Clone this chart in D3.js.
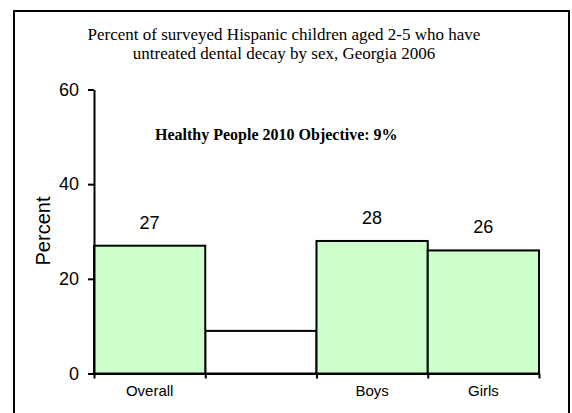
<!DOCTYPE html>
<html>
<head>
<meta charset="utf-8">
<script src="https://cdn.jsdelivr.net/npm/d3@7"></script>
<style>
  html, body { margin: 0; padding: 0; background: #fff; }
  svg { display: block; }
</style>
</head>
<body>
<svg id="chart" width="572" height="413"></svg>
<script>
// Untreated dental decay among Hispanic children aged 2-5, Georgia 2006
const categories = ["Overall", "Objective", "Boys", "Girls"];
const tickLabels = ["Overall", "", "Boys", "Girls"];
const percents = [27, null, 28, 26];
const objectiveValue = 9;
const yTicks = [0, 20, 40, 60];
const titleLines = [
  "Percent of surveyed Hispanic children aged 2-5 who have",
  "untreated dental decay by sex, Georgia 2006"
];
const objectiveNote = "Healthy People 2010 Objective: 9%";

const svg = d3.select("#chart");
const sans = "'Liberation Sans', Arial, sans-serif";
const serif = "'Liberation Serif', 'Times New Roman', serif";

// frame around the whole chart
svg.append("rect")
  .attr("x", 14).attr("y", 11)
  .attr("width", 555).attr("height", 412)
  .attr("fill", "#fff").attr("stroke", "#000").attr("stroke-width", 2);

// title
svg.append("g").selectAll("text").data(titleLines).join("text")
  .attr("x", 284).attr("y", (d, i) => 40 + i * 18.5)
  .attr("text-anchor", "middle")
  .attr("font-family", serif).attr("font-size", 17)
  .attr("fill", "#000")
  .text(d => d);

const plot = { left: 94, right: 539, top: 89.5, bottom: 373.5 };

const x = d3.scaleBand().domain(categories)
  .range([plot.left, plot.right]).paddingInner(0).paddingOuter(0);
const y = d3.scaleLinear().domain([0, 60]).range([plot.bottom, plot.top]);

// objective reference bar
svg.append("rect")
  .attr("x", x("Objective")).attr("y", y(objectiveValue))
  .attr("width", x.bandwidth()).attr("height", y(0) - y(objectiveValue))
  .attr("fill", "#fff").attr("stroke", "#000").attr("stroke-width", 2);

// data bars
const barData = categories.map((c, i) => ({ c, v: percents[i] })).filter(d => d.v !== null);
svg.append("g").selectAll("rect").data(barData).join("rect")
  .attr("x", d => x(d.c)).attr("y", d => y(d.v))
  .attr("width", x.bandwidth()).attr("height", d => y(0) - y(d.v))
  .attr("fill", "#CCFFCC").attr("stroke", "#000").attr("stroke-width", 2);

// value labels
svg.append("g").selectAll("text").data(barData).join("text")
  .attr("x", d => x(d.c) + x.bandwidth() / 2)
  .attr("y", d => y(d.v) - 17)
  .attr("text-anchor", "middle")
  .attr("font-family", sans).attr("font-size", 18)
  .attr("fill", "#000")
  .text(d => d.v);

// objective note
svg.append("text")
  .attr("x", 155).attr("y", 140)
  .attr("font-family", serif).attr("font-size", 16).attr("font-weight", "bold")
  .attr("fill", "#000")
  .text(objectiveNote);

// y axis
const yAxis = svg.append("g")
  .attr("transform", `translate(${plot.left},0)`)
  .call(d3.axisLeft(y).tickValues(yTicks).tickSize(6).tickPadding(9).tickSizeOuter(0));
yAxis.select(".domain").attr("stroke", "#000").attr("stroke-width", 2);
yAxis.selectAll(".tick line").attr("stroke", "#000").attr("stroke-width", 2);
yAxis.selectAll(".tick text")
  .attr("font-family", sans).attr("font-size", 18).attr("fill", "#000");

// x axis: tick marks sit between categories
const edges = d3.scaleLinear().domain([0, categories.length]).range([plot.left, plot.right]);
const xAxis = svg.append("g")
  .attr("transform", `translate(0,${plot.bottom})`)
  .call(d3.axisBottom(edges).tickValues(d3.range(categories.length + 1))
    .tickSize(5).tickSizeOuter(0).tickFormat(""));
xAxis.select(".domain").attr("stroke", "#000").attr("stroke-width", 2);
xAxis.selectAll(".tick line").attr("stroke", "#000").attr("stroke-width", 2);

const xLabels = svg.append("g")
  .attr("transform", `translate(0,${plot.bottom})`)
  .call(d3.axisBottom(x).tickSize(0).tickPadding(12).tickFormat((d, i) => tickLabels[i]));
xLabels.select(".domain").remove();
xLabels.selectAll(".tick text")
  .attr("font-family", sans).attr("font-size", 15).attr("fill", "#000");

// y axis title
svg.append("text")
  .attr("transform", `translate(50,231) rotate(-90)`)
  .attr("text-anchor", "middle")
  .attr("font-family", sans).attr("font-size", 20)
  .attr("fill", "#000")
  .text("Percent");
</script>
</body>
</html>
